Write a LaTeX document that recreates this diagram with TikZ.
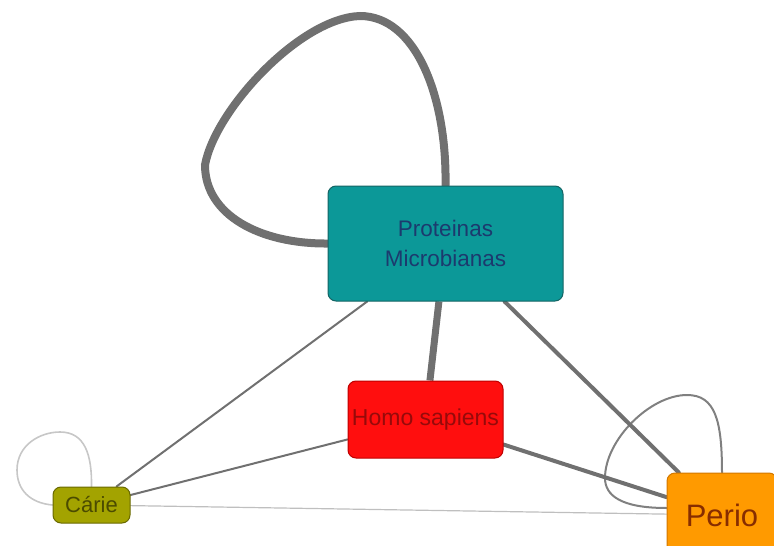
\documentclass[tikz,border=0pt]{standalone}
\usepackage{fontspec}
\setmainfont{Liberation Sans}
\usetikzlibrary{positioning,backgrounds}
\definecolor{tealfill}{RGB}{12,152,152}
\definecolor{tealline}{RGB}{20,100,100}
\definecolor{tealtext}{RGB}{28,58,110}
\definecolor{redfill}{RGB}{255,14,14}
\definecolor{redline}{RGB}{190,0,0}
\definecolor{redtext}{RGB}{150,10,10}
\definecolor{olivefill}{RGB}{163,163,0}
\definecolor{oliveline}{RGB}{105,105,0}
\definecolor{olivetext}{RGB}{75,75,0}
\definecolor{orangefill}{RGB}{255,154,0}
\definecolor{orangeline}{RGB}{210,120,0}
\definecolor{orangetext}{RGB}{135,45,0}
\definecolor{edgegray}{RGB}{112,112,112}
\begin{document}
\begin{tikzpicture}[x=1pt, y=-1pt,
    box/.style={draw, line width=1pt, rounded corners=8pt, align=center, inner sep=0pt},
    link/.style={edgegray, line cap=round}]
  \useasboundingbox (0,0) rectangle (774,546);
  \node[box, fill=tealfill, draw=tealline, text=tealtext, minimum width=235pt, minimum height=115pt,
        font=\fontsize{22.5}{30}\selectfont] (pm) at (445.5,243.5) {Proteinas\\Microbianas};
  \node[box, fill=redfill, draw=redline, text=redtext, minimum width=155pt, minimum height=77pt,
        font=\fontsize{23}{25}\selectfont] (hs) at (425.5,419.5) {Homo sapiens};
  \node[box, fill=olivefill, draw=oliveline, text=olivetext, minimum width=77pt, minimum height=36pt,
        font=\fontsize{22}{25}\selectfont] (cr) at (91.5,505) {Cárie};
  \node[box, fill=orangefill, draw=orangeline, text=orangetext, minimum width=110pt, minimum height=84pt,
        font=\fontsize{31}{36}\selectfont] (pr) at (722,515) {Perio};

  \begin{scope}[on background layer]
  \draw[link, line width=8pt] (pm.west) .. controls (260,244) and (205,215) .. (205,165)
    .. controls (215,110) and (300,18) .. (360,16)
    .. controls (415,16) and (447,95) .. (pm.north);
  \draw[link, line width=1.6pt, color=black!22] (cr.west) .. controls (30,503) and (17,490) .. (17,470)
    .. controls (17,445) and (40,432) .. (60,432)
    .. controls (85,432) and (92,455) .. (cr.north);
  \draw[link, line width=2pt, color=black!50] ([yshift=7pt]pr.west) .. controls (620,508) and (605,495) .. (605,478)
    .. controls (605,440) and (650,395) .. (687,395)
    .. controls (715,395) and (722,420) .. (pr.north);

  \draw[link, line width=7pt, line cap=butt] (pm) -- (hs);
  \draw[link, line width=4pt] (pm) -- (pr);
  \draw[link, line width=4pt] (hs) -- (pr);
  \draw[link, line width=2pt] (pm) -- (cr);
  \draw[link, line width=2pt] (hs) -- (cr);
  \draw[link, line width=1.2pt, color=black!25] (cr) -- (pr);
  \end{scope}
\end{tikzpicture}
\end{document}
